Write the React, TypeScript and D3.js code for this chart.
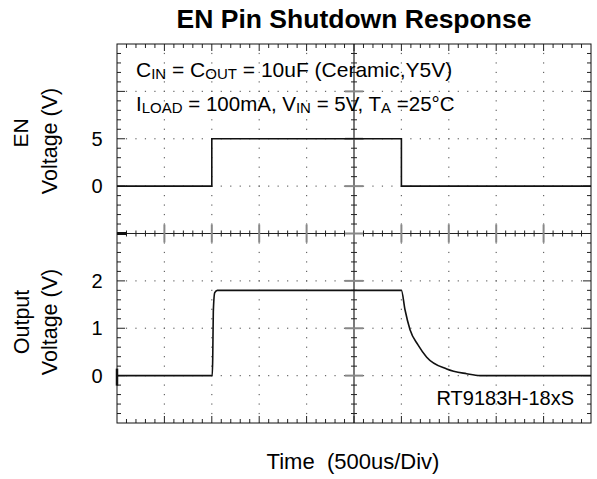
import React from "react";
import * as d3 from "d3";

// ---- data ----
const EN_T = [0, 1000, 1000, 3000, 3000, 5000];
const EN_V = [0, 0, 5, 5, 0, 0];
const OUT_T = [0, 1005, 1010, 1016, 1031, 1058, 3000, 3038, 3091, 3175, 3267, 3478, 3689, 3829, 5000];
const OUT_V = [0, 0, 0.4, 1.35, 1.75, 1.8, 1.8, 1.39, 0.97, 0.65, 0.39, 0.14, 0.04, 0, 0];
const EN_TICKS = [0, 5];
const OUT_TICKS = [0, 1, 2];
const TITLE = "EN Pin Shutdown Response";
const X_LABEL = "Time  (500us/Div)";
const PART = "RT9183H-18xS";

const W = 597, H = 479;
const L = 117, R = 591, T = 44, B = 423;
const NX = 10, NY = 8;
const FONT = "'Liberation Sans', Arial, sans-serif";

export default function App() {
  const x = d3.scaleLinear().domain([0, 5000]).range([L, R]);
  const yEN = d3.scaleLinear().domain([-25, 15]).range([B, T]);
  const yOut = d3.scaleLinear().domain([-1, 7]).range([B, T]);
  const gx = d3.scaleLinear().domain([0, NX]).range([L, R]);
  const gy = d3.scaleLinear().domain([0, NY]).range([T, B]);

  const enLine = d3.line<number>().x((_, i) => x(EN_T[i])).y((v) => yEN(v))(EN_V) || "";
  const outLine = d3.line<number>().curve(d3.curveMonotoneX).x((_, i) => x(OUT_T[i])).y((v) => yOut(v))(OUT_V) || "";

  const cx = gx(NX / 2), cy = gy(NY / 2);
  const dots: JSX.Element[] = [];
  for (let k = 1; k < NX; k++) {
    if (k === NX / 2) continue;
    for (let j = 1; j < NY * 5; j++) {
      dots.push(<rect key={`v${k}-${j}`} x={gx(k) - 0.6} y={gy(j / 5) - 0.6} width={1.2} height={1.2} fill="#666" />);
    }
  }
  for (let k = 1; k < NY; k++) {
    if (k === NY / 2) continue;
    for (let j = 1; j < NX * 5; j++) {
      dots.push(<rect key={`h${k}-${j}`} x={gx(j / 5) - 0.6} y={gy(k) - 0.6} width={1.2} height={1.2} fill="#666" />);
    }
  }
  const ticks: JSX.Element[] = [];
  for (let j = 1; j < NX * 5; j++) {
    const xx = gx(j / 5);
    const major = j % 5 === 0;
    const len = major ? 7 : 4;
    ticks.push(<line key={`tt${j}`} x1={xx} x2={xx} y1={T} y2={T + len} stroke="#222" />);
    ticks.push(<line key={`tb${j}`} x1={xx} x2={xx} y1={B} y2={B - len} stroke="#222" />);
    if (major) {
      ticks.push(<line key={`tc${j}`} x1={xx} x2={xx} y1={cy - 9} y2={cy + 9} stroke="#888" strokeWidth={2} />);
    } else {
      ticks.push(<line key={`tc${j}`} x1={xx} x2={xx} y1={cy - 3} y2={cy + 3} stroke="#222" />);
    }
  }
  for (let j = 1; j < NY * 5; j++) {
    const yy = gy(j / 5);
    const major = j % 5 === 0;
    const len = major ? 8 : 4;
    ticks.push(<line key={`tl${j}`} x1={L} x2={L + len} y1={yy} y2={yy} stroke="#222" />);
    ticks.push(<line key={`tr${j}`} x1={R} x2={R - len} y1={yy} y2={yy} stroke="#222" />);
    if (major) {
      ticks.push(<line key={`tm${j}`} x1={cx - 9} x2={cx + 9} y1={yy} y2={yy} stroke="#888" strokeWidth={2} />);
    } else {
      ticks.push(<line key={`tm${j}`} x1={cx - 3} x2={cx + 3} y1={yy} y2={yy} stroke="#222" />);
    }
  }

  return (
    <div style={{ position: "absolute", left: 0, top: 0 }}>
      <svg width={W} height={H} style={{ display: "block", background: "#fff" }} fontFamily={FONT}>
        <text x={354} y={28} textAnchor="middle" fontSize={26.5} fontWeight="bold">{TITLE}</text>
        {dots}
        <line x1={cx} x2={cx} y1={T} y2={B} stroke="#222" strokeWidth={1.2} />
        <line x1={L} x2={R} y1={cy} y2={cy} stroke="#222" strokeWidth={1.2} />
        {ticks}
        <rect x={L} y={T} width={R - L} height={B - T} fill="none" stroke="#111" strokeWidth={1} />
        <line x1={L} x2={L + 10} y1={cy} y2={cy} stroke="#111" strokeWidth={3} />
        <line x1={L} x2={L} y1={yOut(0) - 7} y2={yOut(0) + 10} stroke="#111" strokeWidth={2.5} />
        <path d={enLine} fill="none" stroke="#111" strokeWidth={1.6} />
        <path d={outLine} fill="none" stroke="#111" strokeWidth={1.6} />
        {EN_TICKS.map((v) => (
          <text key={`e${v}`} x={97} y={yEN(v) + 7} textAnchor="middle" fontSize={20}>{v}</text>
        ))}
        {OUT_TICKS.map((v) => (
          <text key={`o${v}`} x={97} y={yOut(v) + 7} textAnchor="middle" fontSize={20}>{v}</text>
        ))}
        <text transform="translate(28,133) rotate(-90)" textAnchor="middle" fontSize={21}>EN</text>
        <text transform="translate(57,141) rotate(-90)" textAnchor="middle" fontSize={21.5}>Voltage (V)</text>
        <text transform="translate(29,322) rotate(-90)" textAnchor="middle" fontSize={21.5}>Output</text>
        <text transform="translate(57,322) rotate(-90)" textAnchor="middle" fontSize={21.5}>Voltage (V)</text>
        <text x={136} y={77} fontSize={21}>
          C<tspan fontSize={15} dy={2}>IN</tspan><tspan dy={-2}> = C</tspan><tspan fontSize={15} dy={2}>OUT</tspan><tspan dy={-2}> = 10uF (Ceramic,Y5V)</tspan>
        </text>
        <text x={136} y={111} fontSize={20.5}>
          I<tspan fontSize={15} dy={2}>LOAD</tspan><tspan dy={-2}> = 100mA, V</tspan><tspan fontSize={15} dy={2}>IN</tspan><tspan dy={-2}> = 5V, T</tspan><tspan fontSize={15} dy={2}>A</tspan><tspan dy={-2}> =25°C</tspan>
        </text>
        <text x={574} y={405} textAnchor="end" fontSize={20}>{PART}</text>
        <text x={353} y={469} textAnchor="middle" fontSize={22} xmlSpace="preserve">{X_LABEL}</text>
      </svg>
    </div>
  );
}
